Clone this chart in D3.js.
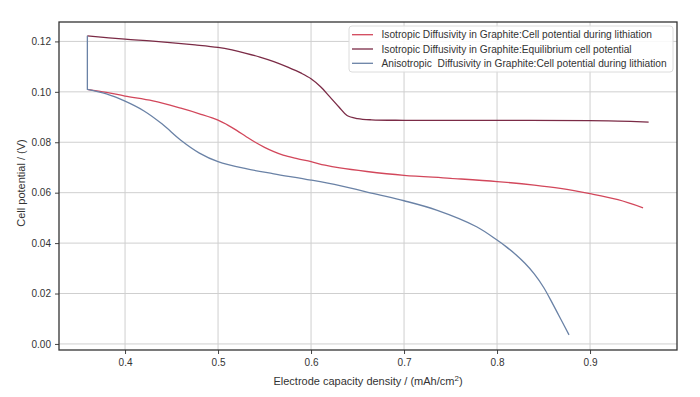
<!DOCTYPE html>
<html>
<head>
<meta charset="utf-8">
<script src="https://cdn.jsdelivr.net/npm/d3@7"></script>
<style>
  body { margin: 0; background: #fff; }
  text { font-family: "Liberation Sans", Arial, sans-serif; fill: #333; }
</style>
</head>
<body>
<div id="chart"></div>
<script>
var w = 700;
var h = 397;

// series values: [capacity, potential]
var isoCell = [[0.3595,0.101],[0.38,0.0998],[0.4,0.0983],[0.43,0.0964],[0.46,0.0935],[0.48,0.0913],[0.5,0.0888],[0.51,0.0869],[0.52,0.0847],[0.53,0.0823],[0.54,0.08],[0.55,0.078],[0.56,0.0763],[0.57,0.0749],[0.585,0.0735],[0.6,0.0723],[0.615,0.0709],[0.631,0.0698],[0.66,0.0684],[0.7,0.0669],[0.75,0.0657],[0.8,0.0644],[0.84,0.063],[0.868,0.0617],[0.9,0.0596],[0.93,0.0572],[0.957,0.054]];
var isoEq = [[0.3595,0.1222],[0.4,0.1209],[0.43,0.1201],[0.4753,0.1186],[0.5,0.1176],[0.515,0.1166],[0.53,0.1153],[0.545,0.1138],[0.56,0.112],[0.575,0.1098],[0.59,0.1073],[0.6,0.1052],[0.61,0.1021],[0.62,0.0981],[0.63,0.094],[0.6387,0.0906],[0.65,0.0894],[0.665,0.0889],[0.7,0.0887],[0.8,0.0887],[0.899,0.0886],[0.93,0.0884],[0.963,0.088]];
var anisoCell = [[0.3595,0.1222],[0.3595,0.101],[0.38,0.0992],[0.4,0.0963],[0.42,0.0925],[0.44,0.0872],[0.46,0.0808],[0.48,0.0757],[0.5,0.0723],[0.53,0.0695],[0.56,0.0675],[0.6,0.065],[0.631,0.0628],[0.67,0.0594],[0.7,0.0568],[0.735,0.0531],[0.778,0.0465],[0.8,0.0412],[0.81,0.0385],[0.82,0.0355],[0.83,0.032],[0.84,0.0278],[0.85,0.0225],[0.86,0.0158],[0.87,0.0088],[0.8774,0.0036]];

var xTicks = [0.4, 0.5, 0.6, 0.7, 0.8, 0.9];
var yTicks = [0.00, 0.02, 0.04, 0.06, 0.08, 0.10, 0.12];

var seriesNames = ["Isotropic Diffusivity in Graphite:Cell potential during lithiation",
                   "Isotropic Diffusivity in Graphite:Equilibrium cell potential",
                   "Anisotropic  Diffusivity in Graphite:Cell potential during lithiation"];
var seriesColors = ["#d2475b", "#7b2b46", "#6a82a6"];
var seriesData = [isoCell, isoEq, anisoCell];

var mLeft = 59, mRight = 677, mTop = 22, mBottom = 350;

var svg = d3.select("#chart").append("svg")
            .attr("width", w)
            .attr("height", h);

var x = d3.scaleLinear().domain([0.329, 0.9935]).range([mLeft, mRight]);
var y = d3.scaleLinear().domain([-0.0024, 0.1277]).range([mBottom, mTop]);

// grid
svg.selectAll("line.vgrid")
   .data(xTicks)
   .enter()
   .append("line")
   .attr("x1", function(d) { return x(d); })
   .attr("x2", function(d) { return x(d); })
   .attr("y1", mTop)
   .attr("y2", mBottom)
   .attr("stroke", "#cfcfcf")
   .attr("stroke-width", 1);

svg.selectAll("line.hgrid")
   .data(yTicks)
   .enter()
   .append("line")
   .attr("x1", mLeft)
   .attr("x2", mRight)
   .attr("y1", function(d) { return y(d); })
   .attr("y2", function(d) { return y(d); })
   .attr("stroke", "#cfcfcf")
   .attr("stroke-width", 1);

// axes
var xAxis = svg.append("g")
               .attr("transform", "translate(0," + mBottom + ")")
               .call(d3.axisBottom(x).tickValues(xTicks).tickSize(4).tickPadding(5).tickFormat(d3.format(".1f")));
var yAxis = svg.append("g")
               .attr("transform", "translate(" + mLeft + ",0)")
               .call(d3.axisLeft(y).tickValues(yTicks).tickSize(4).tickPadding(4).tickFormat(d3.format(".2f")));

[xAxis, yAxis].forEach(function(a) {
  a.select(".domain").remove();
  a.selectAll("line").attr("stroke", "#444");
  a.selectAll("text").style("font-size", "10px").style("font-family", "'Liberation Sans', Arial, sans-serif").attr("fill", "#333");
});

// lines
var line = d3.line()
             .x(function(d) { return x(d[0]); })
             .y(function(d) { return y(d[1]); })
             .curve(d3.curveCatmullRom.alpha(0.5));
var lineRaw = d3.line()
             .x(function(d) { return x(d[0]); })
             .y(function(d) { return y(d[1]); });

seriesData.forEach(function(s, i) {
  var path = svg.append("path")
     .attr("fill", "none")
     .attr("stroke", seriesColors[i])
     .attr("stroke-width", 1.3);
  if (i == 2) {
    // vertical drop first, then smooth part
    path.attr("d", lineRaw(s.slice(0, 2)) + line(s.slice(1)).replace(/^M/, "L"));
  } else {
    path.attr("d", line(s));
  }
});

// frame
svg.append("rect")
   .attr("x", mLeft)
   .attr("y", mTop)
   .attr("width", mRight - mLeft)
   .attr("height", mBottom - mTop)
   .attr("fill", "none")
   .attr("stroke", "#333")
   .attr("stroke-width", 1.3);

// legend
var legend = svg.append("g").attr("transform", "translate(349,26)");
legend.append("rect")
      .attr("width", 324)
      .attr("height", 46)
      .attr("rx", 3)
      .attr("fill", "rgba(255,255,255,0.85)")
      .attr("stroke", "#dcdcdc");
var items = legend.selectAll("g.item")
                  .data(seriesNames)
                  .enter()
                  .append("g")
                  .attr("transform", function(d, i) { return "translate(0," + (8.7 + i * 14.3) + ")"; });
items.append("line")
     .attr("x1", 3).attr("x2", 24)
     .attr("stroke", function(d, i) { return seriesColors[i]; })
     .attr("stroke-width", 1.3);
items.append("text")
     .attr("x", 32.5)
     .attr("dy", "0.35em")
     .style("font-size", "10.2px")
     .style("white-space", "pre")
     .text(function(d) { return d; });

// axis labels
var xl = svg.append("text")
   .attr("x", (mLeft + mRight) / 2)
   .attr("y", 385)
   .attr("text-anchor", "middle")
   .style("font-size", "11px");
xl.append("tspan").text("Electrode capacity density / (mAh/cm");
xl.append("tspan").attr("dy", -4).style("font-size", "8px").text("2");
xl.append("tspan").attr("dy", 4).text(")");

svg.append("text")
   .attr("transform", "translate(25,183) rotate(-90)")
   .attr("text-anchor", "middle")
   .style("font-size", "11px")
   .text("Cell potential / (V)");
</script>
</body>
</html>
